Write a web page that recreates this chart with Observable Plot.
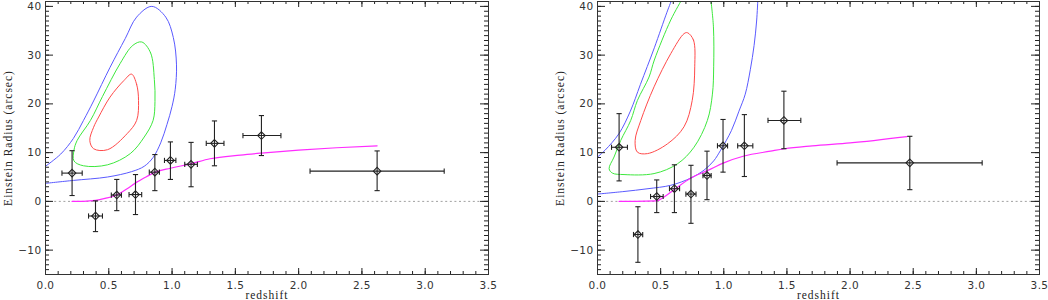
<!DOCTYPE html>
<html>
<head>
<meta charset="utf-8">
<script src="https://cdn.jsdelivr.net/npm/d3@7"></script>
<script src="https://cdn.jsdelivr.net/npm/@observablehq/plot@0.6"></script>
<style>
  html, body { margin: 0; padding: 0; background: #fff; }
  #wrap { display: flex; width: 1048px; height: 300px; }
  #wrap svg { display: block; }
</style>
</head>
<body>
<div id="wrap"></div>
<script>
// ---------- axes / ticks ----------
const xMajor = [0, 0.5, 1, 1.5, 2, 2.5, 3, 3.5];
const xTickLabels = ["0.0", "0.5", "1.0", "1.5", "2.0", "2.5", "3.0", "3.5"];
const yMajor = [-10, 0, 10, 20, 30, 40];
const yTickLabels = ["\u221210", "0", "10", "20", "30", "40"];
const xLabel = "redshift";
const yLabel = "Einstein Radius (arcsec)";

// ---------- left panel: data points ----------
const leftZ    = [0.21, 0.395, 0.563, 0.711, 0.864, 0.987, 1.15, 1.335, 1.706, 2.62];
const leftR    = [5.8, -3.0, 1.3, 1.4, 6.0, 8.4, 7.6, 11.9, 13.5, 6.2];
const leftZlo  = [0.13, 0.34, 0.52, 0.66, 0.82, 0.94, 1.10, 1.27, 1.56, 2.09];
const leftZhi  = [0.29, 0.45, 0.60, 0.76, 0.90, 1.03, 1.20, 1.41, 1.86, 3.15];
const leftRlo  = [1.2, -6.2, -1.9, -2.7, 2.2, 4.5, 3.0, 7.3, 9.4, 2.2];
const leftRhi  = [10.4, 0.1, 4.5, 5.5, 9.6, 12.2, 12.1, 16.5, 17.6, 10.35];

// left panel: model curve (magenta)
const leftModel = [[0.21,0],[0.3,0.02],[0.395,0.2],[0.47,0.6],[0.553,1.2],[0.645,2.6],[0.724,4.0],
  [0.8,5.1],[0.869,6.0],[0.987,6.8],[1.145,7.7],[1.3,8.75],[1.54,9.5],[1.706,9.9],[2.0,10.5],[2.3,11.0],[2.62,11.4]];

// left panel: confidence contours
const leftBlue = [[0,7.2],[0.12,9.7],[0.22,12.9],[0.30,16.6],[0.38,20.6],[0.51,27.5],[0.63,33.4],[0.72,37.8],
  [0.84,40.0],[0.95,37.8],[1.01,33.6],[1.035,28.0],[1.025,23.0],[1.0,19.5],[0.96,15.8],[0.91,12.0],
  [0.85,9.0],[0.78,7.2],[0.68,6.1],[0.49,5.0],[0.22,4.3],[0,3.7]];
const leftGreen = [[0.76,32.7],[0.83,30.5],[0.86,25],[0.865,20.5],[0.85,16.6],[0.78,13.2],[0.67,9.8],
  [0.49,7.5],[0.3,7.3],[0.225,8.3],[0.225,10.5],[0.25,12.5],[0.355,16.6],[0.45,21.5],[0.59,28.3],[0.69,32.0]];
const leftRed = [[0.68,26.1],[0.72,24],[0.735,20.7],[0.72,16.6],[0.645,13.9],[0.49,10.6],[0.38,10.8],
  [0.35,12.5],[0.38,15.2],[0.42,17.3],[0.51,21.4],[0.62,24.8]];

// ---------- right panel: data points ----------
const rightZ   = [0.171, 0.32, 0.469, 0.609, 0.74, 0.867, 0.994, 1.163, 1.476, 2.473];
const rightR   = [11.1, -6.8, 1.0, 2.6, 1.5, 5.3, 11.4, 11.4, 16.6, 7.9];
const rightZlo = [0.111, 0.285, 0.42, 0.57, 0.70, 0.835, 0.95, 1.11, 1.35, 1.897];
const rightZhi = [0.237, 0.358, 0.52, 0.65, 0.78, 0.90, 1.03, 1.23, 1.61, 3.046];
const rightRlo = [4.2, -12.5, -2.3, -2.3, -4.5, 0.35, 6.0, 5.1, 10.8, 2.4];
const rightRhi = [18.0, -1.1, 4.4, 7.5, 7.4, 10.3, 16.8, 17.8, 22.6, 13.35];

// right panel: model curve (magenta)
const rightModel = [[0.171,0],[0.3,0],[0.47,0.1],[0.527,0.9],[0.606,2.4],[0.74,4.8],[0.87,6.3],[1.0,7.9],
  [1.16,9.3],[1.37,10.3],[1.48,10.8],[1.7,11.4],[2.0,12.0],[2.45,13.3]];

// right panel: confidence contours
const rightBlueUpper = [[0,9.1],[0.06,10.5],[0.17,13.9],[0.26,18.5],[0.34,24],[0.45,31.5],[0.55,38.8],[0.59,41.5]];
const rightBlueLower = [[0,1.5],[0.2,2.0],[0.4,2.6],[0.58,3.3],[0.74,4.8],[0.843,6.4],[0.92,8.3],[0.975,10.5],
  [1.06,14.5],[1.12,18.5],[1.17,22],[1.21,27],[1.24,32],[1.26,37],[1.27,41.5]];
const rightGreen = [[0.67,41.5],[0.58,37.2],[0.45,29.0],[0.408,25.5],[0.316,20.7],[0.263,16.6],[0.184,12.5],
  [0.131,9.1],[0.092,6.7],[0.118,5.8],[0.21,5.5],[0.448,5.7],[0.633,7.7],[0.764,11.1],[0.87,16.6],
  [0.91,22],[0.92,27.6],[0.918,35.8],[0.897,41.5]];
const rightRed = [[0.712,34.6],[0.76,33.1],[0.77,27.6],[0.75,20.7],[0.685,15.3],[0.554,11.8],[0.396,9.8],
  [0.316,10.1],[0.298,12.5],[0.343,16.6],[0.448,23.5],[0.58,30.3],[0.685,34.4]];

// ---------- colours ----------
const colBlue = "#5a5aff", colGreen = "#3ee83e", colRed = "#ff4a4a", colMagenta = "#ff2cff", ink = "#222";

// custom bar symbols for error-bar caps
const hbar = { draw(ctx, size) { const r = Math.sqrt(size / Math.PI); ctx.moveTo(-r, 0); ctx.lineTo(r, 0); } };
const vbar = { draw(ctx, size) { const r = Math.sqrt(size / Math.PI); ctx.moveTo(0, -r); ctx.lineTo(0, r); } };

function panel(o) {
  const W = o.width, H = 300, mt = 1, mb = 26, ml = o.marginLeft, mr = o.marginRight;
  const iw = W - ml - mr, ih = H - mt - mb;
  const pts = o.z.map((z, i) => ({z, r: o.r[i], zlo: o.zlo[i], zhi: o.zhi[i], rlo: o.rlo[i], rhi: o.rhi[i]}));
  const xy = a => a.map(([z, r]) => ({z, r}));
  const xMinor = d3.range(0, 36).map(i => i / 10);
  const yMinor = d3.range(-15, 42);
  const contourMarks = o.contours.map(c =>
    Plot.line(xy(c.data), {x: "z", y: "r", stroke: c.color, strokeWidth: 1, curve: c.closed ? "catmull-rom-closed" : "catmull-rom", clip: true}));
  const svg = Plot.plot({
    width: W, height: H, marginLeft: ml, marginRight: mr, marginTop: mt, marginBottom: mb,
    x: {domain: [0, 3.5]},
    y: {domain: [-15, 41]},
    style: {fontFamily: "'DejaVu Sans', sans-serif", fontSize: "10.5px", color: "#333", background: "#fff"},
    marks: [
      Plot.ruleY([0], {stroke: "#a0a0a0", strokeDasharray: "2,2.6"}),
      ...contourMarks,
      Plot.line(xy(o.model), {x: "z", y: "r", stroke: colMagenta, strokeWidth: 1.2, curve: "monotone-x"}),
      // error bars
      Plot.link(pts, {x1: "zlo", x2: "zhi", y1: "r", y2: "r", stroke: ink, strokeWidth: 1.1}),
      Plot.link(pts, {x1: "z", x2: "z", y1: "rlo", y2: "rhi", stroke: ink, strokeWidth: 1.1}),
      Plot.dot(pts, {x: "z", y: "rlo", symbol: hbar, r: 2.6, stroke: ink, fill: "none", strokeWidth: 1.1}),
      Plot.dot(pts, {x: "z", y: "rhi", symbol: hbar, r: 2.6, stroke: ink, fill: "none", strokeWidth: 1.1}),
      Plot.dot(pts, {x: "zlo", y: "r", symbol: vbar, r: 2.6, stroke: ink, fill: "none", strokeWidth: 1.1}),
      Plot.dot(pts, {x: "zhi", y: "r", symbol: vbar, r: 2.6, stroke: ink, fill: "none", strokeWidth: 1.1}),
      Plot.dot(pts, {x: "z", y: "r", symbol: "diamond2", r: 3.4, stroke: ink, fill: "none", strokeWidth: 1.1}),
      // inward ticks on all four sides
      Plot.ruleX(xMajor, {insetTop: ih - 6, stroke: ink}),
      Plot.ruleX(xMajor, {insetBottom: ih - 6, stroke: ink}),
      Plot.ruleX(xMinor, {insetTop: ih - 3, stroke: ink}),
      Plot.ruleX(xMinor, {insetBottom: ih - 3, stroke: ink}),
      Plot.ruleY(yMajor, {insetRight: iw - 8, stroke: ink}),
      Plot.ruleY(yMajor, {insetLeft: iw - 8, stroke: ink}),
      Plot.ruleY(yMinor, {insetRight: iw - 4, stroke: ink}),
      Plot.ruleY(yMinor, {insetLeft: iw - 4, stroke: ink}),
      Plot.frame({stroke: "#333", strokeWidth: 1}),
      Plot.axisX(xMajor, {tickSize: 0, tickPadding: 7, label: null, tickFormat: d => xTickLabels[xMajor.indexOf(d)]}),
      Plot.axisY(yMajor, {tickSize: 0, tickPadding: 4, label: null, tickFormat: d => yTickLabels[yMajor.indexOf(d)]}),
      Plot.text([xLabel], {frameAnchor: "bottom", dy: 21, lineAnchor: "middle", textAnchor: "middle", text: d => d, fontFamily: "'Liberation Serif', serif", fontSize: 11.5, fill: "#222"}),
      Plot.text([yLabel], {frameAnchor: "left", dx: -37, rotate: -90, textAnchor: "middle", lineAnchor: "middle", text: d => d, fontFamily: "'Liberation Serif', serif", fontSize: 11.5, fill: "#222"})
    ]
  });
  d3.select(svg).selectAll('g[aria-label="text"] text').attr("letter-spacing", "1px");
  d3.select(svg).selectAll('g[aria-label$="tick label"] text').attr("letter-spacing", "0.4px");
  return svg;
}

const wrap = document.getElementById("wrap");
wrap.appendChild(panel({
  width: 552, marginLeft: 45, marginRight: 64,
  z: leftZ, r: leftR, zlo: leftZlo, zhi: leftZhi, rlo: leftRlo, rhi: leftRhi,
  model: leftModel,
  contours: [
    {data: leftBlue, color: colBlue, closed: false},
    {data: leftGreen, color: colGreen, closed: true},
    {data: leftRed, color: colRed, closed: true}
  ]
}));
wrap.appendChild(panel({
  width: 496, marginLeft: 45, marginRight: 9,
  z: rightZ, r: rightR, zlo: rightZlo, zhi: rightZhi, rlo: rightRlo, rhi: rightRhi,
  model: rightModel,
  contours: [
    {data: rightBlueUpper, color: colBlue, closed: false},
    {data: rightBlueLower, color: colBlue, closed: false},
    {data: rightGreen, color: colGreen, closed: false},
    {data: rightRed, color: colRed, closed: true}
  ]
}));
</script>
</body>
</html>
